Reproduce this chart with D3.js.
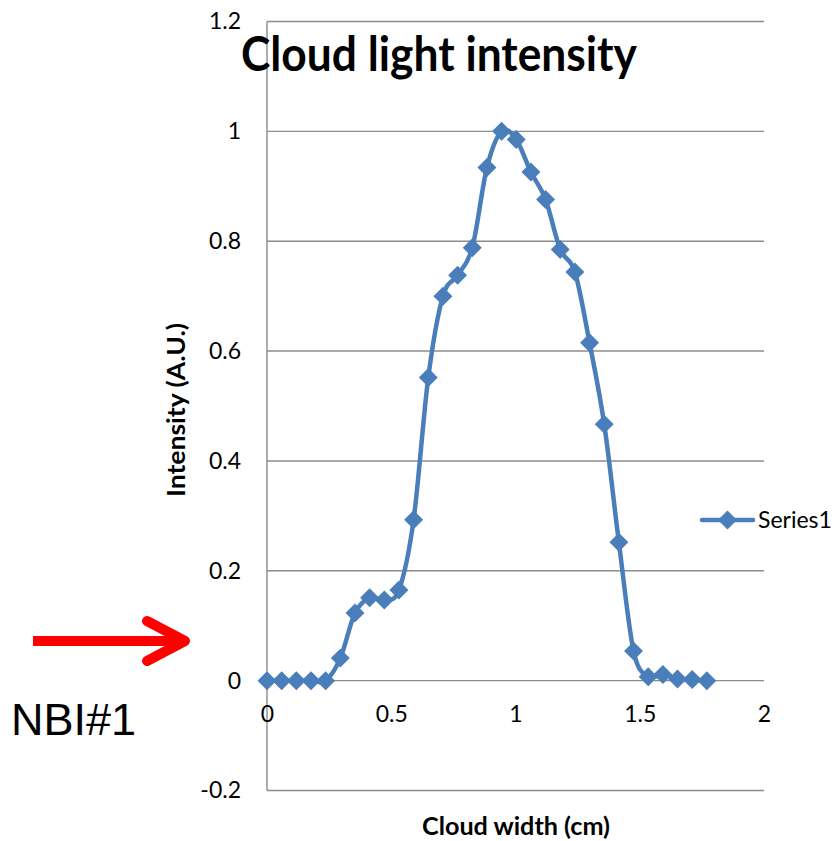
<!DOCTYPE html>
<html>
<head>
<meta charset="utf-8">
<script src="https://cdn.jsdelivr.net/npm/d3@7"></script>
<style>
  html, body { margin: 0; padding: 0; background: #fff; }
  svg { display: block; }
</style>
</head>
<body>
<svg id="chart" width="837" height="841"></svg>
<script>
// Cloud light intensity profile across the cloud width
const widthCm = [0, 0.059, 0.118, 0.177, 0.236, 0.295, 0.354, 0.413, 0.472, 0.531,
                 0.59, 0.649, 0.708, 0.767, 0.826, 0.885, 0.944, 1.003, 1.062, 1.121,
                 1.18, 1.239, 1.298, 1.357, 1.416, 1.475, 1.534, 1.593, 1.652, 1.711, 1.77];
const intensity = [0, 0, 0, 0, 0, 0.041, 0.123, 0.151, 0.147, 0.165,
                   0.293, 0.552, 0.700, 0.738, 0.788, 0.934, 1.0, 0.985, 0.926, 0.876,
                   0.785, 0.744, 0.615, 0.467, 0.252, 0.054, 0.007, 0.011, 0.003, 0.002, 0];
const xTicks = [0, 0.5, 1, 1.5, 2];
const yTicks = [-0.2, 0, 0.2, 0.4, 0.6, 0.8, 1, 1.2];
const seriesName = "Series1";
const chartTitle = "Cloud light intensity";
const xTitle = "Cloud width (cm)";
const yTitle = "Intensity (A.U.)";
const noteLabel = "NBI#1";

const points = widthCm.map((w, i) => ({ x: w, y: intensity[i] }));

const svg = d3.select("#chart");
const plot = { left: 267, right: 764, top: 21.5, bottom: 790.5 };
const blue = "#4A7EBB";
const grid = "#8C8C8C";
const uiFont = "Lato, 'Open Sans', sans-serif";

const x = d3.scaleLinear().domain([0, 2]).range([plot.left, plot.right]);
const y = d3.scaleLinear().domain([-0.2, 1.2]).range([plot.bottom, plot.top]);

// horizontal gridlines
svg.append("g").selectAll("line").data(yTicks).join("line")
  .attr("x1", plot.left).attr("x2", plot.right)
  .attr("y1", d => y(d)).attr("y2", d => y(d))
  .attr("stroke", grid).attr("stroke-width", 1.4);

// vertical axis line at x = 0
svg.append("line")
  .attr("x1", x(0)).attr("x2", x(0))
  .attr("y1", plot.top).attr("y2", plot.bottom)
  .attr("stroke", grid).attr("stroke-width", 1.4);

// y tick labels (plain hyphen for negatives)
const yAxis = d3.axisLeft(y).tickValues(yTicks).tickSize(0).tickPadding(26)
  .tickFormat(d => String(+d.toFixed(1)));
const gy = svg.append("g").attr("transform", `translate(${plot.left},0)`).call(yAxis);
gy.select(".domain").remove();
gy.selectAll("text").style("font-family", uiFont).style("font-size", "23px").attr("fill", "#000");

// x tick labels, placed below the zero line
const xAxis = d3.axisBottom(x).tickValues(xTicks).tickSize(0).tickPadding(25)
  .tickFormat(d => String(d));
const gx = svg.append("g").attr("transform", `translate(0,${y(0)})`).call(xAxis);
gx.select(".domain").remove();
gx.selectAll("text").style("font-family", uiFont).style("font-size", "23px").attr("fill", "#000");

// smoothed series line
const line = d3.line()
  .x(d => x(d.x)).y(d => y(d.y))
  .curve(d3.curveCardinal.tension(0));
svg.append("path").datum(points)
  .attr("d", line)
  .attr("fill", "none").attr("stroke", blue)
  .attr("stroke-width", 4.5).attr("stroke-linejoin", "round");

// diamond markers
const diamond = d3.symbol().type(d3.symbolSquare).size(180);
svg.append("g").selectAll("path").data(points).join("path")
  .attr("d", diamond)
  .attr("transform", d => `translate(${x(d.x)},${y(d.y)}) rotate(45)`)
  .attr("fill", blue);

// legend
const legend = svg.append("g").attr("transform", "translate(702,520)");
legend.append("line").attr("x1", 0).attr("x2", 51).attr("y1", 0).attr("y2", 0)
  .attr("stroke", blue).attr("stroke-width", 4.5).attr("stroke-linecap", "round");
legend.append("path").attr("d", diamond).attr("transform", "translate(25.5,0) rotate(45)").attr("fill", blue);
legend.append("text").attr("x", 56).attr("y", 0).attr("dy", "0.35em")
  .style("font-family", uiFont).style("font-size", "23px").text(seriesName);

// stretch or squeeze a text element to a target width
function fit(sel, w) {
  sel.attr("textLength", w).attr("lengthAdjust", "spacingAndGlyphs");
  return sel;
}

// title
fit(svg.append("text").attr("x", 241).attr("y", 71)
  .style("font-family", uiFont).style("font-size", "47px").style("font-weight", 700)
  .text(chartTitle), 396);

// axis titles
fit(svg.append("text").attr("x", 516).attr("y", 835).attr("text-anchor", "middle")
  .style("font-family", uiFont).style("font-size", "25px").style("font-weight", 700)
  .text(xTitle), 188);
fit(svg.append("text").attr("transform", "translate(185,410) rotate(-90)")
  .attr("text-anchor", "middle")
  .style("font-family", uiFont).style("font-size", "25px").style("font-weight", 700)
  .text(yTitle), 174);

// red arrow pointing at the zero level
const arrow = svg.append("g").attr("stroke", "#FF0000").attr("stroke-width", 10)
  .attr("fill", "none").attr("stroke-linecap", "round").attr("stroke-linejoin", "round");
arrow.append("line").attr("x1", 33).attr("y1", 641).attr("x2", 184).attr("y2", 641)
  .attr("stroke-linecap", "butt");
arrow.append("polyline").attr("points", "147,621 185,641 147,661");

// note label
svg.append("text").attr("x", 11).attr("y", 735)
  .style("font-family", "'Liberation Sans', Arial, sans-serif")
  .style("font-size", "45px").text(noteLabel);
</script>
</body>
</html>
